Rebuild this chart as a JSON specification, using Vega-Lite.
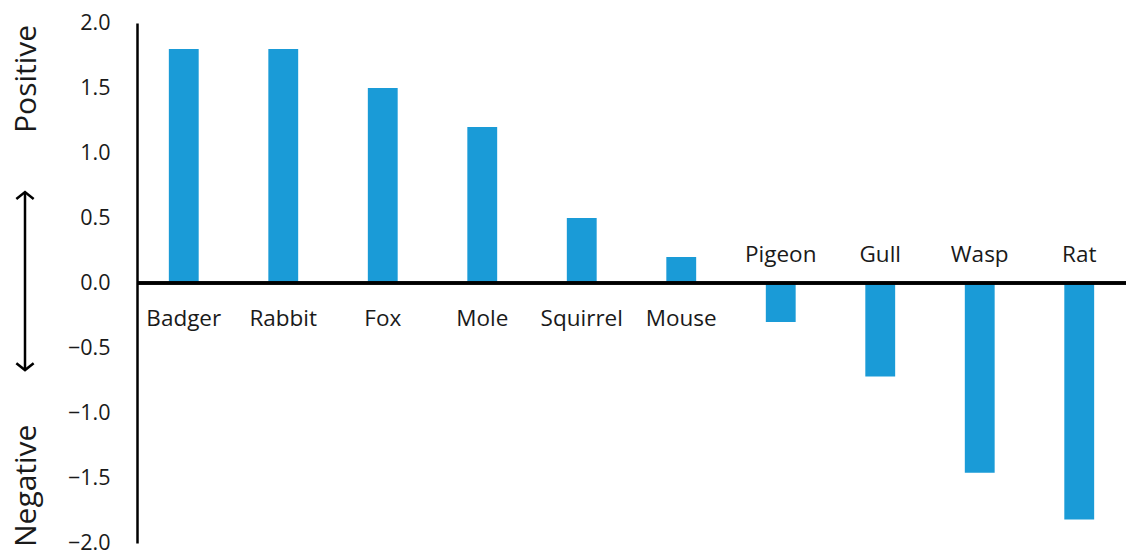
{
  "$schema": "https://vega.github.io/schema/vega-lite/v6.json",
  "autosize": {"type": "none"},
  "padding": {"left": 137, "top": 23, "right": 0, "bottom": 13},
  "width": 989,
  "height": 520,
  "background": "white",
  "config": {
    "view": {"stroke": null},
    "font": "Open Sans"
  },
  "data": {
    "values": [
      {"animal": "Badger", "score": 1.8},
      {"animal": "Rabbit", "score": 1.8},
      {"animal": "Fox", "score": 1.5},
      {"animal": "Mole", "score": 1.2},
      {"animal": "Squirrel", "score": 0.5},
      {"animal": "Mouse", "score": 0.2},
      {"animal": "Pigeon", "score": -0.3},
      {"animal": "Gull", "score": -0.72},
      {"animal": "Wasp", "score": -1.46},
      {"animal": "Rat", "score": -1.82}
    ]
  },
  "encoding": {
    "x": {
      "field": "animal",
      "type": "nominal",
      "sort": null,
      "scale": {"paddingInner": 0.7, "paddingOuter": 0.32},
      "axis": null
    }
  },
  "layer": [
    {
      "mark": {"type": "bar", "color": "#1a9bd7"},
      "encoding": {
        "y": {
          "field": "score",
          "type": "quantitative",
          "scale": {"domain": [-2, 2], "nice": false, "zero": true},
          "axis": {
            "title": null,
            "values": [-2, -1.5, -1, -0.5, 0, 0.5, 1, 1.5, 2],
            "format": ".1f",
            "grid": false,
            "ticks": false,
            "domain": true,
            "domainColor": "black",
            "domainWidth": 2.5,
            "labelFontSize": 21.5,
            "labelColor": "#1a1a1a",
            "labelPadding": 27,
            "labelFont": "Open Sans"
          }
        },
        "y2": {"datum": 0}
      }
    },
    {
      "mark": {"type": "rule", "color": "black", "strokeWidth": 2.5},
      "encoding": {
        "y": {"datum": 0},
        "x": null
      }
    },
    {
      "transform": [{"filter": "datum.score >= 0"}],
      "mark": {"type": "text", "fontSize": 22.5, "color": "#1a1a1a", "baseline": "alphabetic", "dy": 43},
      "encoding": {
        "y": {"datum": 0},
        "text": {"field": "animal"}
      }
    },
    {
      "transform": [{"filter": "datum.score < 0"}],
      "mark": {"type": "text", "fontSize": 22.5, "color": "#1a1a1a", "baseline": "alphabetic", "dy": -21},
      "encoding": {
        "y": {"datum": 0},
        "text": {"field": "animal"}
      }
    },
    {
      "data": {"values": [{"word": "Positive"}]},
      "mark": {"type": "text", "fontSize": 30, "angle": 270, "color": "#1a1a1a", "baseline": "middle", "align": "center"},
      "encoding": {
        "x": {"value": -110},
        "y": {"datum": 1.57},
        "text": {"field": "word"}
      }
    },
    {
      "data": {"values": [{"word": "Negative"}]},
      "mark": {"type": "text", "fontSize": 30, "angle": 270, "color": "#1a1a1a", "baseline": "middle", "align": "center"},
      "encoding": {
        "x": {"value": -110},
        "y": {"datum": -1.56},
        "text": {"field": "word"}
      }
    },
    {
      "data": {"values": [{}]},
      "mark": {"type": "rule", "color": "black", "strokeWidth": 2.5},
      "encoding": {
        "x": {"value": -112},
        "y": {"datum": 0.7},
        "y2": {"datum": -0.67}
      }
    },
    {
      "data": {"values": [{}]},
      "mark": {"type": "point", "shape": "M-1,0.8L0,0L1,0.8", "filled": false, "color": "black", "strokeWidth": 2.5, "size": 300, "opacity": 1},
      "encoding": {
        "x": {"value": -112},
        "y": {"datum": 0.7}
      }
    },
    {
      "data": {"values": [{}]},
      "mark": {"type": "point", "shape": "M-1,-0.8L0,0L1,-0.8", "filled": false, "color": "black", "strokeWidth": 2.5, "size": 300, "opacity": 1},
      "encoding": {
        "x": {"value": -112},
        "y": {"datum": -0.67}
      }
    }
  ]
}
